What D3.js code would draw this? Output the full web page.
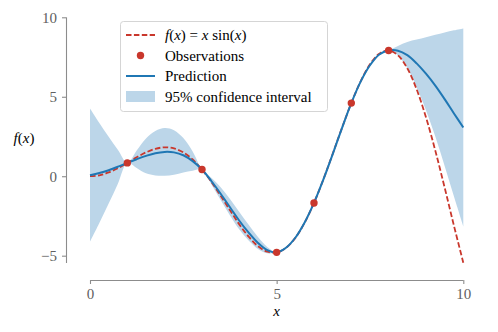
<!DOCTYPE html>
<html>
<head>
<meta charset="utf-8">
<script src="https://cdn.jsdelivr.net/npm/d3@7"></script>
<style>
	body { margin: 0; background: #fff; }
	svg text { font-family: "Liberation Serif", "DejaVu Serif", serif; }
</style>
</head>
<body>
<div id="main"></div>
<script>
// ===========================Data=======================
// x grid the curves are sampled on
var xs = [0, 0.25, 0.5, 0.75, 1, 1.25, 1.5, 1.75, 2, 2.25, 2.5, 2.75, 3, 3.25, 3.5, 3.75, 4,
	4.25, 4.5, 4.75, 5, 5.25, 5.5, 5.75, 6, 6.25, 6.5, 6.75, 7, 7.25, 7.5, 7.75, 8,
	8.25, 8.5, 8.75, 9, 9.25, 9.5, 9.75, 10];
// true function f(x) = x sin(x), read at each grid point
var trueY = [0, 0.06, 0.24, 0.51, 0.84, 1.19, 1.50, 1.72, 1.82, 1.75, 1.50, 1.05, 0.42,
	-0.35, -1.23, -2.14, -3.03, -3.80, -4.40, -4.75, -4.79, -4.51, -3.88, -2.92, -1.68,
	-0.21, 1.40, 3.04, 4.60, 5.97, 7.04, 7.71, 7.91, 7.61, 6.79, 5.47, 3.71, 1.61,
	-0.71, -3.12, -5.44];
// GP prediction (mean)
var predY = [0.06, 0.20, 0.38, 0.60, 0.84, 1.07, 1.28, 1.45, 1.53, 1.50, 1.32, 0.95, 0.42,
	-0.30, -1.10, -1.95, -2.80, -3.55, -4.20, -4.65, -4.79, -4.50, -3.87, -2.91, -1.68,
	-0.22, 1.38, 3.03, 4.60, 5.95, 6.98, 7.66, 7.91, 7.90, 7.62, 7.10, 6.45, 5.70,
	4.85, 3.95, 3.07];
// half width of the 95% confidence interval
var ciHalf = [4.20, 3.15, 2.10, 1.05, 0, 0.55, 1.10, 1.40, 1.50, 1.40, 1.08, 0.60, 0,
	0.20, 0.40, 0.52, 0.55, 0.50, 0.38, 0.20, 0, 0.04, 0.06, 0.04, 0, 0.04, 0.06, 0.04, 0,
	0.04, 0.06, 0.04, 0, 0.30, 0.83, 1.50, 2.30, 3.20, 4.20, 5.23, 6.23];
// observations
var obsX = [1, 3, 5, 6, 7, 8];
var obsY = [0.84, 0.42, -4.79, -1.68, 4.60, 7.91];
// ticks
var xTicks = [0, 5, 10];
var yTicks = [-5, 0, 5, 10];

// ===========================Config=======================
const svgResolution = { "width": 498, "height": 332 };
const colors = {
	red: '#c9372c',
	blue: '#1f77b4',
	band: '#bcd6e9',
	spine: '#8c8c8c',
	tickText: '#606060'
};

const svg = d3.select('#main').append('svg')
	.attr('width', svgResolution.width)
	.attr('height', svgResolution.height);

var x_scale = d3.scaleLinear().domain([0, 10]).range([90, 463.3]);
var y_scale = d3.scaleLinear().domain([-5.46, 10]).range([263, 17.3]);

// =========================== axes ===========================
// offset spines like seaborn's despine(offset=...)
var yAxisX = 66;
var xAxisY = 280;

var yAxis = svg.append('g')
	.attr('transform', 'translate(' + yAxisX + ',0)')
	.call(d3.axisLeft(y_scale).tickValues(yTicks).tickSize(4).tickPadding(5)
		.tickFormat(d => d < 0 ? '\u2212' + Math.abs(d) : d));

var xAxis = svg.append('g')
	.attr('transform', 'translate(0,' + xAxisY + ')')
	.call(d3.axisBottom(x_scale).tickValues(xTicks).tickSize(4).tickPadding(4));

[xAxis, yAxis].forEach(function(ax){
	ax.select('.domain').attr('stroke', colors.spine).attr('stroke-width', 1.1);
	ax.selectAll('.tick line').attr('stroke', colors.spine).attr('stroke-width', 1.1);
	ax.selectAll('.tick text')
		.attr('fill', colors.tickText)
		.style('font-size', '15px')
		.style('font-family', '"Liberation Serif", serif');
});
// plain spine, no end caps
yAxis.select('.domain').attr('d', 'M0.5,' + y_scale.range()[0] + 'V' + y_scale.range()[1]);
xAxis.select('.domain').attr('d', 'M' + x_scale.range()[0] + ',0.5H' + x_scale.range()[1]);

// axis labels
svg.append('text')
	.attr('x', 276.7).attr('y', 316)
	.attr('text-anchor', 'middle')
	.style('font-size', '15px').style('font-style', 'italic')
	.text('x');

var fLabel = svg.append('text')
	.attr('x', 24).attr('y', 143)
	.attr('text-anchor', 'middle')
	.style('font-size', '15px');
fLabel.append('tspan').style('font-style', 'italic').text('f');
fLabel.append('tspan').text('(');
fLabel.append('tspan').style('font-style', 'italic').text('x');
fLabel.append('tspan').text(')');

// =========================== marks ===========================
var rows = xs.map((x, i) => ({ x: x, t: trueY[i], m: predY[i], h: ciHalf[i] }));

var band = d3.area()
	.x(d => x_scale(d.x))
	.y0(d => y_scale(d.m - d.h))
	.y1(d => y_scale(d.m + d.h))
	.curve(d3.curveCatmullRom);

svg.append('path')
	.datum(rows)
	.attr('d', band)
	.attr('fill', colors.band)
	.attr('stroke', 'none');

var predLine = d3.line()
	.x(d => x_scale(d.x))
	.y(d => y_scale(d.m))
	.curve(d3.curveCatmullRom);

var trueLine = d3.line()
	.x(d => x_scale(d.x))
	.y(d => y_scale(d.t))
	.curve(d3.curveCatmullRom);

svg.append('path')
	.datum(rows)
	.attr('d', trueLine)
	.attr('fill', 'none')
	.attr('stroke', colors.red)
	.attr('stroke-width', 1.8)
	.attr('stroke-dasharray', '5.5,2.4');

svg.append('path')
	.datum(rows)
	.attr('d', predLine)
	.attr('fill', 'none')
	.attr('stroke', colors.blue)
	.attr('stroke-width', 2);

svg.selectAll('circle.obs')
	.data(obsX.map((x, i) => [x, obsY[i]]))
	.enter()
	.append('circle')
	.attr('class', 'obs')
	.attr('cx', d => x_scale(d[0]))
	.attr('cy', d => y_scale(d[1]))
	.attr('r', 3.7)
	.attr('fill', colors.red);

// =========================== legend ===========================
var legend = svg.append('g');
legend.append('rect')
	.attr('x', 120.5).attr('y', 21.5)
	.attr('width', 207).attr('height', 90)
	.attr('rx', 3)
	.attr('fill', 'white').attr('fill-opacity', 0.85)
	.attr('stroke', '#d5d5d5');

var rowY = [35, 55.5, 76, 96.5];
var hx0 = 126, hx1 = 155, tx = 165;

legend.append('line')
	.attr('x1', hx0).attr('x2', hx1).attr('y1', rowY[0]).attr('y2', rowY[0])
	.attr('stroke', colors.red).attr('stroke-width', 1.8)
	.attr('stroke-dasharray', '5.5,2.4');
legend.append('circle')
	.attr('cx', (hx0 + hx1) / 2).attr('cy', rowY[1]).attr('r', 3.7)
	.attr('fill', colors.red);
legend.append('line')
	.attr('x1', hx0).attr('x2', hx1).attr('y1', rowY[2]).attr('y2', rowY[2])
	.attr('stroke', colors.blue).attr('stroke-width', 2);
legend.append('rect')
	.attr('x', hx0).attr('y', rowY[3] - 5.5)
	.attr('width', hx1 - hx0).attr('height', 11)
	.attr('fill', colors.band);

var fText = legend.append('text')
	.attr('x', tx).attr('y', rowY[0] + 5)
	.style('font-size', '15px');
fText.append('tspan').style('font-style', 'italic').text('f');
fText.append('tspan').text('(');
fText.append('tspan').style('font-style', 'italic').text('x');
fText.append('tspan').text(') = ');
fText.append('tspan').style('font-style', 'italic').text('x');
fText.append('tspan').text(' sin(');
fText.append('tspan').style('font-style', 'italic').text('x');
fText.append('tspan').text(')');

var legendLabels = ['Observations', 'Prediction', '95% confidence interval'];
legendLabels.forEach(function(lbl, i){
	legend.append('text')
		.attr('x', tx).attr('y', rowY[i + 1] + 5)
		.style('font-size', '15px')
		.text(lbl);
});
</script>
</body>
</html>
